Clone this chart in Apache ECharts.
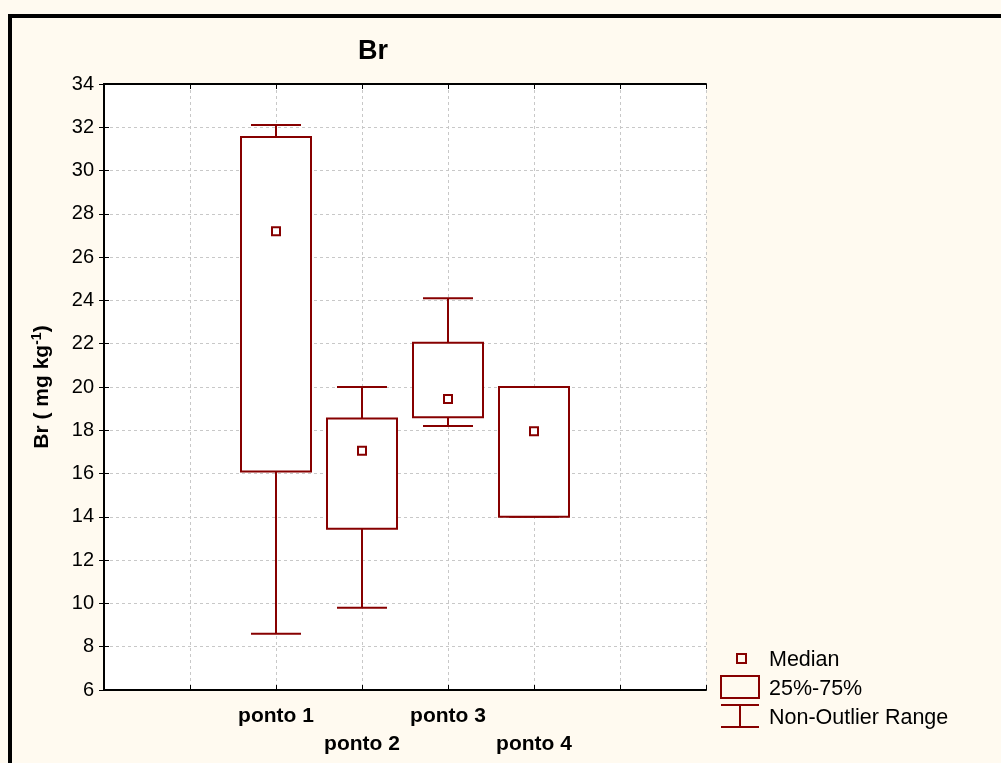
<!DOCTYPE html>
<html><head><meta charset="utf-8">
<script src="https://cdn.jsdelivr.net/npm/echarts@6/dist/echarts.min.js"></script>
<style>html,body{margin:0;padding:0;background:#fffaf0;}#c{width:1001px;height:763px;}</style>
</head><body><div id="c"></div>
<script>
// Data
const categories = ['ponto 1', 'ponto 2', 'ponto 3', 'ponto 4'];
const positions = [2, 3, 4, 5];
const minRange = [8.6, 9.8, 18.2, 14.0];
const q25 = [16.1, 13.45, 18.6, 14.0];
const medians = [27.2, 17.05, 19.45, 17.95];
const q75 = [31.55, 18.55, 22.05, 20.0];
const maxRange = [32.1, 20.0, 24.1, 20.0];
const yTicks = [6, 8, 10, 12, 14, 16, 18, 20, 22, 24, 26, 28, 30, 32, 34];

const RED = '#870000';
const FONT = 'Liberation Sans, Arial, sans-serif';
const rows = categories.map((c, i) => [positions[i], minRange[i], q25[i], medians[i], q75[i], maxRange[i]]);
const labelMap = {};
positions.forEach((p, i) => { labelMap[p] = (i % 2 === 0 ? '' : '\n') + categories[i]; });

function renderBox(params, api) {
  const x = api.value(0);
  const lo = api.coord([x, api.value(1)]);
  const b = api.coord([x, api.value(2)]);
  const m = api.coord([x, api.value(3)]);
  const t = api.coord([x, api.value(4)]);
  const hi = api.coord([x, api.value(5)]);
  const cx = Math.round(lo[0]);
  const bw = 70, cw = 50, ms = 8;
  const st = { stroke: RED, lineWidth: 2, fill: null };
  return {
    type: 'group',
    children: [
      { type: 'line', shape: { x1: cx, y1: hi[1], x2: cx, y2: t[1] }, style: st },
      { type: 'line', shape: { x1: cx, y1: b[1], x2: cx, y2: lo[1] }, style: st },
      { type: 'line', shape: { x1: cx - cw / 2, y1: hi[1], x2: cx + cw / 2, y2: hi[1] }, style: st },
      { type: 'line', shape: { x1: cx - cw / 2, y1: lo[1], x2: cx + cw / 2, y2: lo[1] }, style: st },
      { type: 'rect', shape: { x: cx - bw / 2, y: t[1], width: bw, height: b[1] - t[1] }, style: { stroke: RED, lineWidth: 2, fill: '#fff' } },
      { type: 'rect', shape: { x: cx - ms / 2, y: m[1] - ms / 2, width: ms, height: ms }, style: { stroke: RED, lineWidth: 2, fill: '#fff' } }
    ]
  };
}

const chart = echarts.init(document.getElementById('c'), null, { renderer: 'canvas' });
const axisLineStyle = { lineStyle: { color: '#000', width: 2 } };
chart.setOption({
  backgroundColor: '#fffaf0',
  animation: false,
  title: { text: 'Br', left: 353, top: 33, textStyle: { fontFamily: FONT, fontSize: 27, fontWeight: 'bold', color: '#000' } },
  grid: { left: 104, top: 84, width: 602, height: 606, backgroundColor: '#fff', show: true, borderWidth: 0 },
  xAxis: [
    { type: 'value', min: 0, max: 7, interval: 1, position: 'bottom',
      axisLine: axisLineStyle, axisTick: { inside: true, length: 5, lineStyle: { color: '#000' } },
      axisLabel: { margin: 12, lineHeight: 28, fontFamily: FONT, fontSize: 21, fontWeight: 'bold', color: '#000',
        formatter: v => labelMap[v] || '' },
      splitLine: { show: true, lineStyle: { color: '#c8c8c8', type: [3, 3] } } },
    { type: 'value', min: 0, max: 7, interval: 1, position: 'top',
      axisLine: axisLineStyle, axisTick: { inside: true, length: 5, lineStyle: { color: '#000' } },
      axisLabel: { show: false }, splitLine: { show: false } }
  ],
  yAxis: [
    { type: 'value', min: 6, max: 34, interval: 2, position: 'left',
      axisLine: axisLineStyle, axisTick: { inside: true, length: 5, lineStyle: { color: '#000' } },
      axisLabel: { margin: 10, fontFamily: FONT, fontSize: 20, color: '#000', formatter: v => yTicks.includes(v) ? String(v) : '' },
      splitLine: { show: true, lineStyle: { color: '#c8c8c8', type: [3, 3] } },
      name: 'Br ( mg kg{sup|-1})', nameLocation: 'middle', nameRotate: 90, nameGap: 50,
      nameTextStyle: { fontFamily: FONT, fontSize: 21, fontWeight: 'bold', color: '#000',
        rich: { sup: { fontFamily: FONT, fontSize: 14, fontWeight: 'bold', color: '#000', verticalAlign: 'top', padding: [0, 0, 10, 0] } } } },
    { type: 'value', min: 6, max: 34, interval: 2, position: 'right',
      axisLine: axisLineStyle, axisTick: { inside: true, length: 5, lineStyle: { color: '#000' } },
      axisLabel: { show: false }, splitLine: { show: false } }
  ],
  series: [{
    type: 'custom', renderItem: renderBox, data: rows,
    encode: { x: 0, y: [1, 2, 3, 4, 5] }, z: 5, clip: false
  }],
  graphic: [
    { type: 'rect', shape: { x: 10, y: 16, width: 1100, height: 900 }, style: { fill: null, stroke: '#000', lineWidth: 4 }, z: 100 },
    { type: 'rect', shape: { x: 737, y: 654, width: 9, height: 9 }, style: { fill: null, stroke: RED, lineWidth: 2 } },
    { type: 'rect', shape: { x: 721, y: 676, width: 38, height: 22 }, style: { fill: null, stroke: RED, lineWidth: 2 } },
    { type: 'line', shape: { x1: 721, y1: 705, x2: 759, y2: 705 }, style: { stroke: RED, lineWidth: 2 } },
    { type: 'line', shape: { x1: 740, y1: 705, x2: 740, y2: 727 }, style: { stroke: RED, lineWidth: 2 } },
    { type: 'line', shape: { x1: 721, y1: 727, x2: 759, y2: 727 }, style: { stroke: RED, lineWidth: 2 } },
    { type: 'text', x: 769, y: 660, style: { text: 'Median', font: '21.5px ' + FONT, fill: '#000', textVerticalAlign: 'middle', verticalAlign: 'middle' } },
    { type: 'text', x: 769, y: 689, style: { text: '25%-75%', font: '21.5px ' + FONT, fill: '#000', textVerticalAlign: 'middle', verticalAlign: 'middle' } },
    { type: 'text', x: 769, y: 718, style: { text: 'Non-Outlier Range', font: '21.5px ' + FONT, fill: '#000', textVerticalAlign: 'middle', verticalAlign: 'middle' } }
  ]
});
</script></body></html>
